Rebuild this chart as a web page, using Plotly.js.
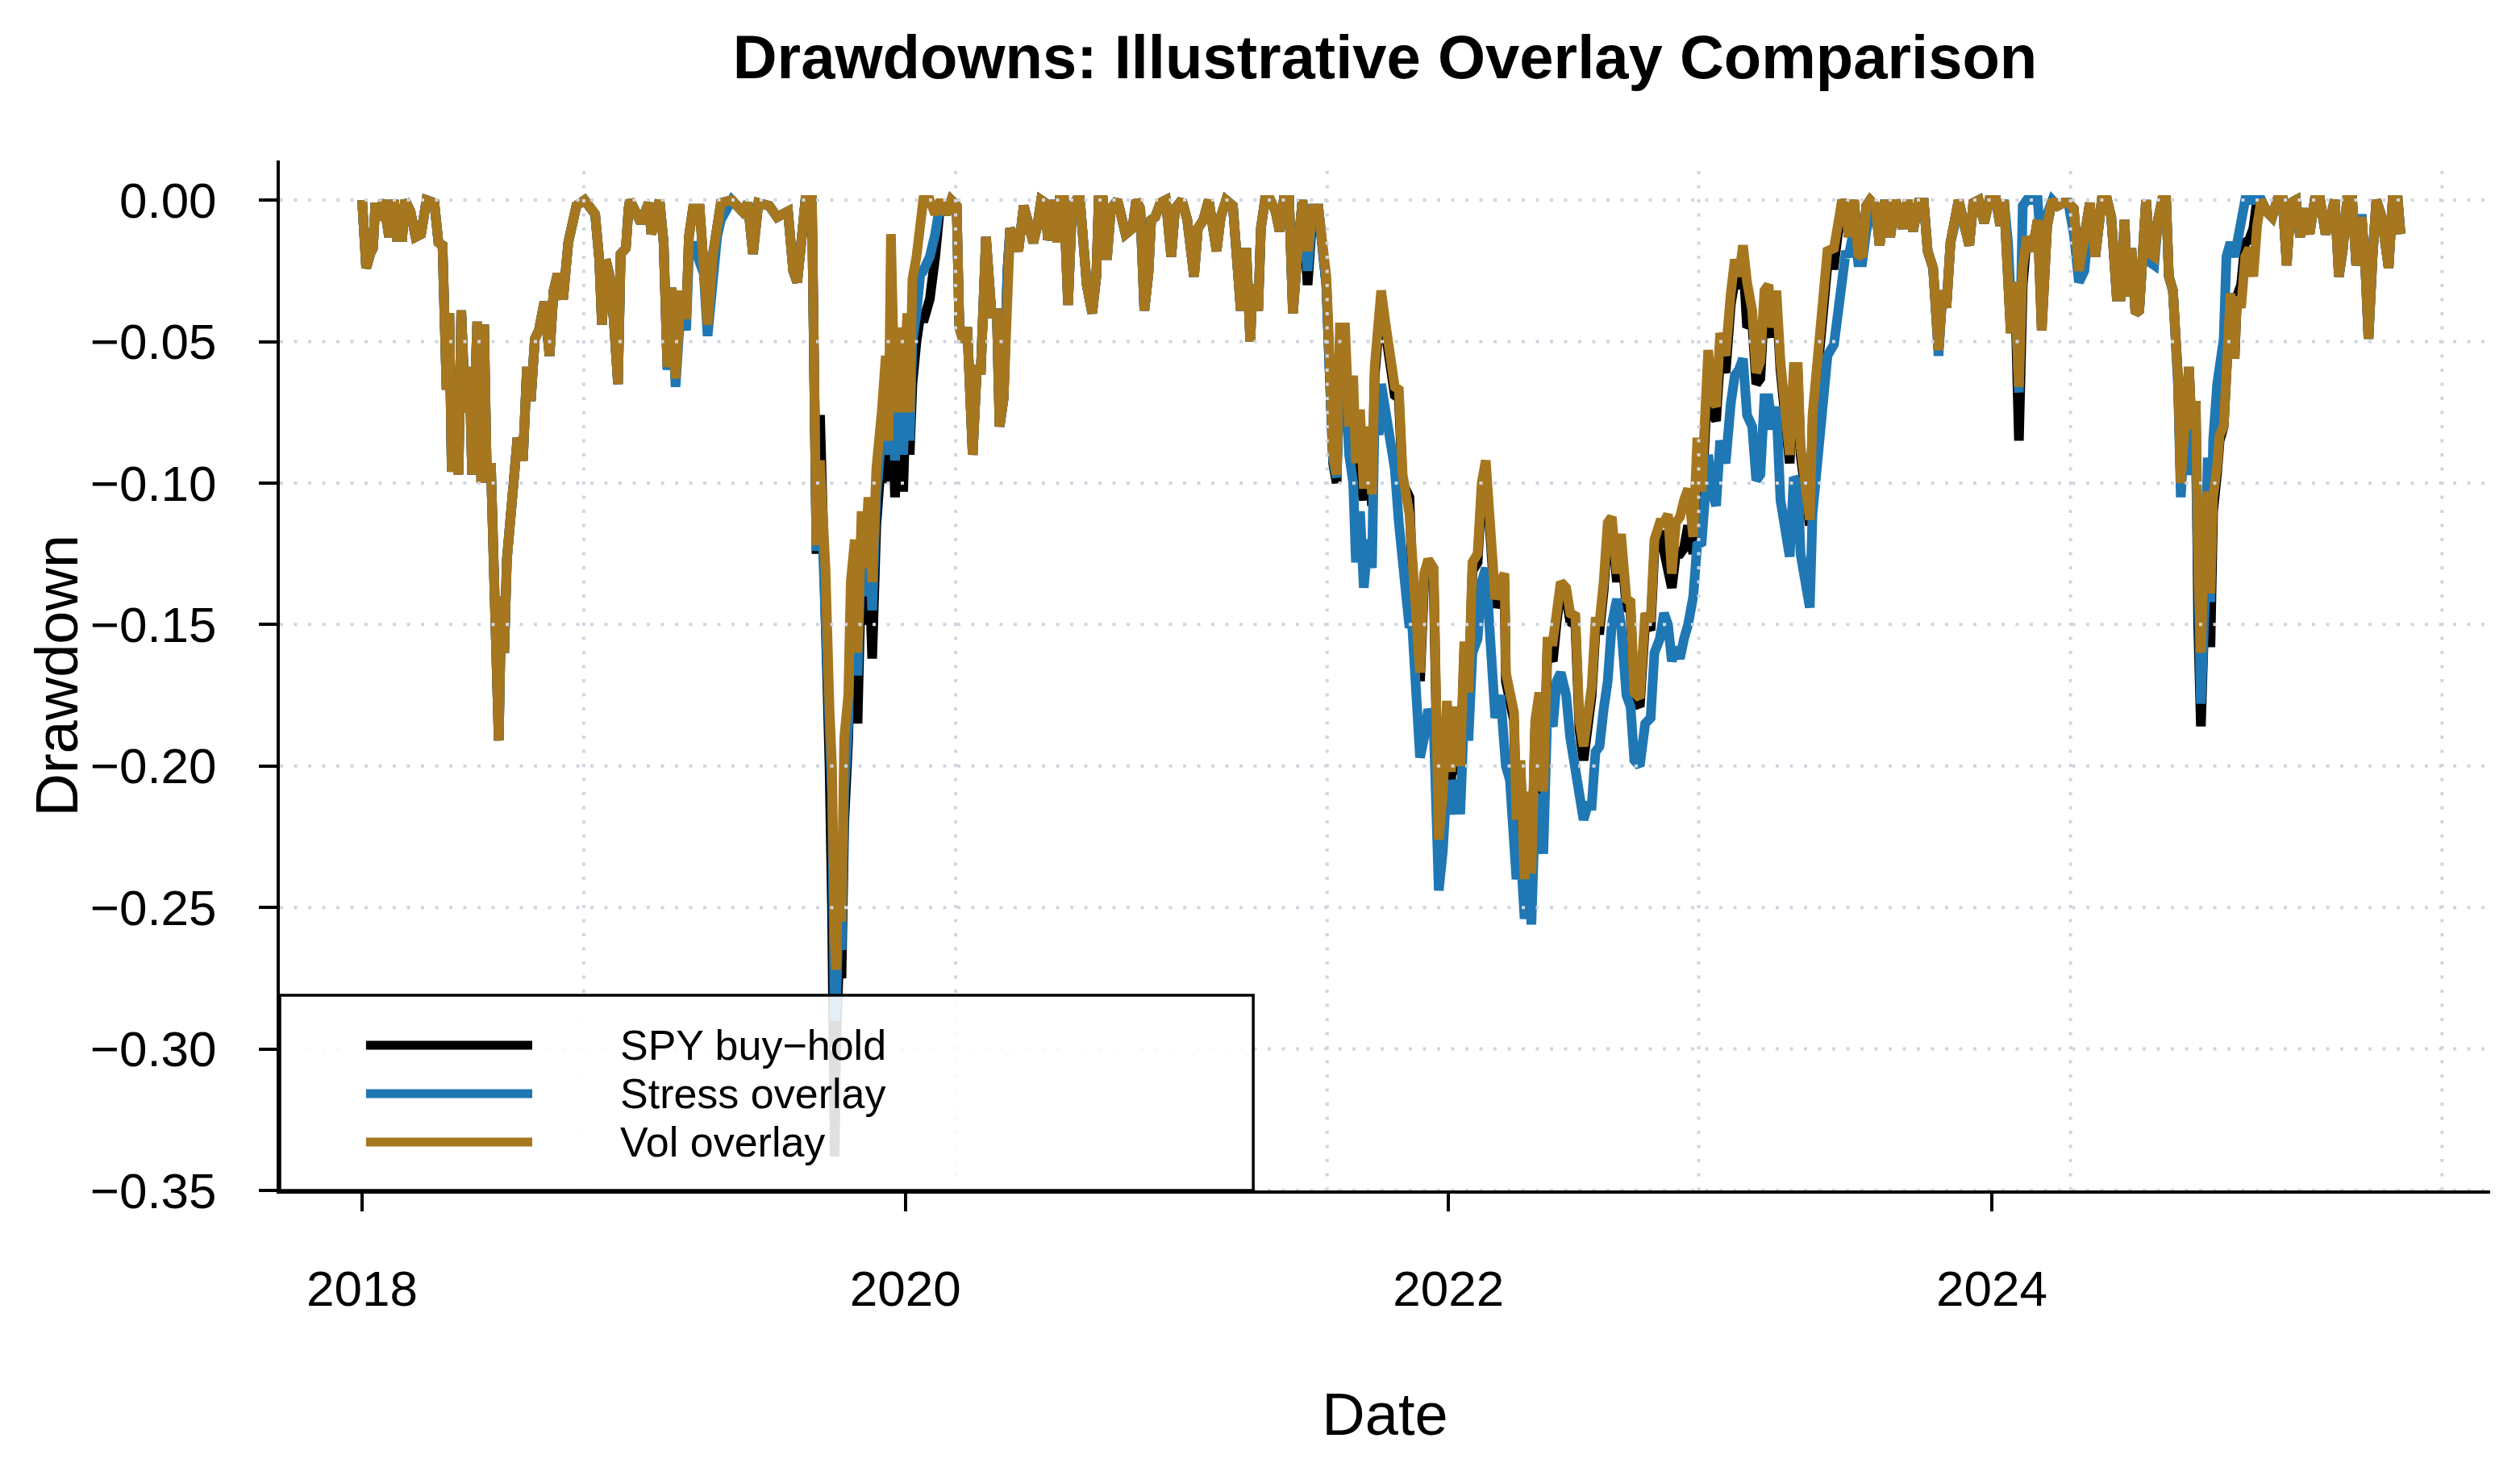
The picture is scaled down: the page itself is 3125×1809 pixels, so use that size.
<!DOCTYPE html>
<html>
<head>
<meta charset="utf-8">
<script src="https://cdn.plot.ly/plotly-3.0.1.min.js"></script>
<style>
  html, body { margin: 0; padding: 0; background: #fff; }
  #chart { width: 3125px; height: 1809px; }
</style>
</head>
<body>
<div id="chart"></div>
<script>
// time axis as plotted (decimal years)
var years = [
  // 2018 - mid 2019
  2018.000,2018.005,2018.015,2018.030,2018.040,2018.049,2018.059,2018.079,2018.099,2018.118,
  2018.128,2018.148,2018.158,2018.178,2018.197,2018.217,2018.237,2018.266,2018.281,2018.296,
  2018.301,2018.311,2018.321,2018.330,2018.345,2018.355,2018.365,2018.380,2018.395,2018.405,
  2018.424,2018.439,2018.449,2018.459,2018.474,2018.489,2018.503,2018.513,2018.523,2018.533,
  2018.548,2018.572,2018.592,2018.607,2018.621,2018.636,2018.651,2018.671,2018.690,2018.705,
  2018.720,2018.740,2018.759,2018.774,2018.789,2018.819,2018.848,2018.858,2018.873,2018.883,
  2018.897,2018.912,2018.927,2018.942,2018.952,2018.971,2018.981,2018.986,2019.026,2019.055,
  2019.065,2019.095,2019.110,2019.124,2019.139,2019.154,2019.174,2019.193,2019.203,2019.218,
  2019.243,2019.258,2019.272,2019.292,2019.307,2019.321,2019.361,2019.400,2019.420,2019.439,
  2019.459,
  // crash and rebound
  2019.499,2019.528,2019.568,2019.587,2019.602,2019.617,2019.632,2019.656,2019.666,2019.673,
  2019.686,2019.706,2019.721,2019.730,2019.740,2019.745,2019.755,2019.765,2019.775,2019.790,
  2019.799,2019.814,2019.824,2019.839,2019.849,2019.864,2019.878,2019.893,2019.913,2019.928,
  2019.938,2019.947,2019.962,2019.982,2019.992,2020.007,2020.016,2020.026,2020.041,2020.056,
  2020.066,2020.090,2020.110,2020.130,2020.150,2020.169,2020.189,2020.199,2020.214,2020.228,
  2020.248,2020.263,2020.278,2020.297,2020.317,2020.337,2020.347,2020.362,2020.376,2020.386,
  2020.406,2020.416,2020.436,
  // quiet stretch
  2020.471,2020.486,2020.500,2020.515,2020.525,2020.540,2020.550,2020.560,2020.569,2020.584,
  2020.599,2020.614,2020.629,2020.643,2020.653,2020.668,2020.688,2020.703,2020.712,2020.727,
  2020.742,2020.757,2020.781,2020.811,2020.836,2020.850,2020.865,2020.880,2020.895,2020.905,
  2020.920,2020.939,2020.959,2020.979,2020.993,2021.018,2021.038,2021.063,2021.077,2021.097,
  2021.117,2021.146,2021.161,2021.181,2021.206,2021.220,2021.235,2021.255,2021.270,2021.279,
  2021.299,2021.309,2021.324,2021.344,2021.363,2021.378,2021.393,2021.413,2021.427,2021.442,
  2021.462,
  // long drawdown
  2021.481,2021.501,2021.521,2021.535,2021.550,2021.560,2021.575,2021.588,2021.600,2021.619,
  2021.634,2021.649,2021.659,2021.674,2021.688,2021.703,2021.718,2021.728,2021.743,2021.752,
  2021.767,2021.787,2021.802,2021.817,2021.831,2021.856,2021.866,2021.881,2021.895,2021.910,
  2021.925,2021.945,2021.955,2021.964,2021.979,2021.994,2022.009,2022.029,2022.043,2022.058,
  2022.073,2022.088,2022.107,2022.122,2022.137,2022.152,2022.172,2022.191,2022.206,2022.211,
  2022.226,2022.241,2022.250,2022.265,2022.280,2022.295,2022.305,2022.319,2022.334,2022.349,
  2022.364,2022.384,2022.398,2022.413,2022.433,2022.448,2022.467,2022.482,2022.497,2022.512,
  2022.527,2022.541,2022.556,2022.571,2022.586,2022.601,2022.620,2022.635,2022.655,2022.670,
  2022.684,2022.704,2022.724,2022.744,2022.758,2022.778,2022.793,2022.808,2022.822,2022.837,
  2022.852,2022.867,2022.882,
  // recovery
  2022.901,2022.916,2022.931,2022.941,2022.956,2022.970,2022.985,2023.000,2023.020,2023.039,
  2023.054,2023.069,2023.084,2023.099,2023.118,2023.133,2023.148,2023.163,2023.178,2023.192,
  2023.207,2023.222,2023.237,2023.256,2023.271,2023.286,2023.296,2023.316,2023.330,2023.340,
  2023.355,2023.370,2023.380,2023.395,2023.419,2023.434,2023.449,2023.463,2023.473,2023.493,
  2023.508,2023.523,2023.538,2023.552,2023.572,2023.587,2023.607,2023.626,2023.646,2023.671,
  2023.690,2023.710,2023.730,2023.750,2023.764,2023.784,2023.804,2023.819,2023.833,2023.848,
  2023.863,2023.878,2023.897,2023.917,2023.932,2023.952,2023.972,2023.991,2024.016,2024.031,
  2024.045,2024.060,2024.070,2024.085,2024.100,2024.114,2024.129,2024.149,2024.169,2024.184,
  2024.204,2024.223,2024.243,2024.262,2024.282,2024.302,2024.321,2024.341,2024.361,
  // last dip and tail
  2024.381,2024.395,2024.405,2024.425,2024.440,2024.460,2024.474,2024.489,2024.499,2024.514,
  2024.529,2024.543,2024.553,2024.568,2024.583,2024.598,2024.612,2024.627,2024.642,2024.652,
  2024.667,2024.677,2024.686,2024.696,2024.711,2024.726,2024.736,2024.751,2024.760,2024.770,
  2024.785,2024.795,2024.805,2024.815,2024.830,2024.839,2024.854,2024.864,2024.879,2024.894,
  2024.903,2024.918,2024.933,2024.948,2024.963,2024.977,2024.992,2025.012,2025.032,2025.051,
  2025.071,2025.086,2025.101,2025.120,2025.135,2025.155,2025.170,2025.189,2025.209,2025.229,
  2025.249,2025.263,2025.278,2025.293,2025.308,2025.327,2025.342,2025.362,2025.377,2025.387,
  2025.402,2025.416,2025.436,2025.461,2025.476,2025.495,2025.505
];

var spy = [
  0,-0.008,-0.024,-0.019,-0.017,-0.001,-0.007,0,-0.013,0,
  -0.013,-0.013,0,-0.004,-0.013,-0.012,0,-0.001,-0.015,-0.016,
  -0.028,-0.067,-0.040,-0.096,-0.062,-0.097,-0.039,-0.075,-0.059,-0.097,
  -0.043,-0.100,-0.044,-0.097,-0.093,-0.150,-0.191,-0.140,-0.160,-0.127,
  -0.110,-0.084,-0.092,-0.059,-0.071,-0.049,-0.046,-0.036,-0.055,-0.032,
  -0.026,-0.035,-0.015,-0.008,-0.002,0,-0.003,-0.005,-0.021,-0.044,
  -0.021,-0.027,-0.043,-0.065,-0.019,-0.017,-0.003,0,-0.008,-0.001,
  -0.012,0,-0.015,-0.059,-0.031,-0.063,-0.032,-0.042,-0.013,-0.003,
  -0.003,-0.020,-0.044,-0.019,-0.008,-0.001,0,-0.004,-0.001,-0.019,
  -0.001,
  -0.002,-0.006,-0.004,-0.025,-0.029,-0.015,0,0,-0.061,-0.125,
  -0.076,-0.140,-0.200,-0.250,-0.338,-0.300,-0.270,-0.275,-0.220,-0.190,
  -0.150,-0.140,-0.185,-0.125,-0.150,-0.120,-0.162,-0.115,-0.090,-0.070,
  -0.100,-0.050,-0.105,-0.060,-0.103,-0.055,-0.090,-0.065,-0.050,-0.040,
  -0.043,-0.035,-0.020,0,-0.005,0,-0.002,-0.045,-0.050,-0.045,
  -0.090,-0.060,-0.060,-0.013,-0.040,-0.040,-0.080,-0.070,-0.025,-0.010,
  -0.015,-0.018,-0.002,
  -0.015,-0.009,0,-0.001,-0.014,-0.009,0,-0.015,0,0,
  -0.037,-0.002,0,0,-0.014,-0.030,-0.040,-0.027,0,0,
  -0.021,-0.003,0,-0.012,-0.010,0,-0.003,-0.039,-0.026,-0.007,
  -0.006,-0.001,0,-0.020,-0.003,0,-0.007,-0.027,-0.010,-0.007,
  0,-0.018,-0.006,0,-0.002,-0.017,-0.039,-0.017,-0.050,-0.030,
  -0.039,-0.010,0,0,-0.004,-0.011,0,0,-0.040,-0.021,
  0,
  -0.030,-0.003,-0.003,-0.018,-0.030,-0.055,-0.093,-0.100,-0.050,-0.050,
  -0.085,-0.070,-0.100,-0.100,-0.106,-0.085,-0.108,-0.062,-0.048,-0.035,
  -0.046,-0.058,-0.069,-0.070,-0.100,-0.105,-0.131,-0.144,-0.170,-0.135,
  -0.130,-0.133,-0.180,-0.230,-0.213,-0.180,-0.205,-0.182,-0.203,-0.159,
  -0.177,-0.131,-0.128,-0.103,-0.095,-0.117,-0.144,-0.138,-0.135,-0.170,
  -0.179,-0.184,-0.222,-0.201,-0.243,-0.212,-0.241,-0.187,-0.177,-0.212,
  -0.159,-0.163,-0.149,-0.138,-0.140,-0.149,-0.150,-0.187,-0.198,-0.185,
  -0.175,-0.152,-0.152,-0.138,-0.117,-0.115,-0.135,-0.121,-0.144,-0.145,
  -0.177,-0.179,-0.149,-0.152,-0.123,-0.117,-0.125,-0.130,-0.137,-0.125,
  -0.125,-0.123,-0.115,
  -0.125,-0.089,-0.108,-0.090,-0.060,-0.075,-0.078,-0.055,-0.061,-0.037,
  -0.028,-0.031,-0.020,-0.045,-0.043,-0.065,-0.063,-0.036,-0.046,-0.048,
  -0.035,-0.060,-0.078,-0.093,-0.062,-0.062,-0.090,-0.105,-0.115,-0.080,
  -0.062,-0.050,-0.037,-0.023,-0.023,-0.008,0,-0.003,-0.013,0,
  -0.019,-0.020,-0.002,0,-0.002,-0.016,0,-0.013,0,-0.010,
  0,-0.011,-0.001,-0.001,-0.018,-0.024,-0.053,-0.032,-0.038,-0.015,
  -0.009,0,-0.008,-0.016,-0.001,0,-0.008,0,0,-0.009,
  0,-0.024,-0.047,-0.029,-0.085,-0.030,-0.013,-0.018,-0.007,-0.046,
  -0.009,0,-0.002,-0.001,-0.001,-0.003,-0.025,-0.013,-0.001,
  -0.020,-0.006,0,0,-0.006,-0.034,-0.034,-0.007,-0.034,-0.017,
  -0.040,-0.039,-0.020,0,-0.019,-0.020,-0.007,0,0,-0.027,
  -0.032,-0.046,-0.063,-0.100,-0.074,-0.059,-0.081,-0.071,-0.150,-0.186,
  -0.140,-0.110,-0.158,-0.110,-0.096,-0.085,-0.080,-0.053,-0.033,-0.056,
  -0.034,-0.030,-0.015,-0.014,-0.010,0,0,-0.004,-0.006,0,
  0,-0.023,-0.001,0,-0.013,-0.003,-0.012,0,0,-0.012,
  -0.006,0,-0.027,-0.017,0,0,-0.023,-0.006,-0.027,-0.049,
  -0.020,0,-0.006,-0.024,0,0,-0.012
];

var stress = [
  0,-0.008,-0.024,-0.019,-0.017,-0.001,-0.007,0,-0.013,0,
  -0.013,-0.013,0,-0.004,-0.013,-0.012,0,-0.001,-0.015,-0.016,
  -0.028,-0.067,-0.040,-0.096,-0.062,-0.097,-0.039,-0.075,-0.059,-0.097,
  -0.043,-0.100,-0.044,-0.097,-0.093,-0.150,-0.191,-0.140,-0.160,-0.127,
  -0.110,-0.084,-0.092,-0.059,-0.071,-0.049,-0.046,-0.036,-0.055,-0.032,
  -0.026,-0.035,-0.015,-0.008,-0.002,0,-0.003,-0.005,-0.021,-0.044,
  -0.021,-0.027,-0.043,-0.065,-0.019,-0.017,-0.003,0,-0.008,-0.001,
  -0.012,0,-0.015,-0.060,-0.034,-0.066,-0.036,-0.046,-0.020,-0.015,
  -0.022,-0.026,-0.048,-0.022,-0.013,-0.007,0,-0.004,-0.001,-0.019,
  -0.001,
  -0.002,-0.006,-0.004,-0.025,-0.029,-0.015,0,0,-0.061,-0.124,
  -0.095,-0.140,-0.190,-0.210,-0.290,-0.285,-0.250,-0.265,-0.210,-0.185,
  -0.145,-0.130,-0.168,-0.115,-0.140,-0.110,-0.145,-0.105,-0.082,-0.065,
  -0.090,-0.040,-0.092,-0.055,-0.090,-0.050,-0.085,-0.050,-0.040,-0.025,
  -0.025,-0.020,-0.012,0,-0.005,0,-0.002,-0.045,-0.050,-0.045,
  -0.090,-0.060,-0.060,-0.013,-0.040,-0.040,-0.080,-0.070,-0.025,-0.010,
  -0.015,-0.018,-0.002,
  -0.015,-0.009,0,-0.001,-0.014,-0.009,0,-0.015,0,0,
  -0.037,-0.002,0,0,-0.014,-0.030,-0.040,-0.027,0,0,
  -0.021,-0.003,0,-0.012,-0.010,0,-0.003,-0.039,-0.026,-0.007,
  -0.006,-0.001,0,-0.020,-0.003,0,-0.007,-0.027,-0.010,-0.007,
  0,-0.018,-0.006,0,-0.002,-0.017,-0.039,-0.017,-0.050,-0.030,
  -0.039,-0.010,0,0,-0.004,-0.011,0,0,-0.040,-0.021,
  0,
  -0.025,-0.003,-0.003,-0.018,-0.030,-0.055,-0.092,-0.098,-0.060,-0.065,
  -0.090,-0.100,-0.128,-0.110,-0.137,-0.120,-0.130,-0.075,-0.083,-0.065,
  -0.075,-0.090,-0.095,-0.114,-0.125,-0.151,-0.150,-0.175,-0.197,-0.190,
  -0.180,-0.185,-0.210,-0.244,-0.230,-0.205,-0.217,-0.205,-0.217,-0.180,
  -0.191,-0.160,-0.155,-0.135,-0.130,-0.150,-0.183,-0.175,-0.191,-0.200,
  -0.205,-0.228,-0.240,-0.230,-0.254,-0.240,-0.256,-0.215,-0.210,-0.231,
  -0.180,-0.186,-0.170,-0.167,-0.175,-0.190,-0.200,-0.212,-0.219,-0.214,
  -0.214,-0.195,-0.193,-0.180,-0.170,-0.150,-0.141,-0.150,-0.175,-0.179,
  -0.198,-0.200,-0.185,-0.183,-0.160,-0.155,-0.146,-0.150,-0.163,-0.158,
  -0.162,-0.155,-0.150,
  -0.140,-0.121,-0.122,-0.110,-0.090,-0.103,-0.108,-0.085,-0.093,-0.072,
  -0.062,-0.060,-0.056,-0.076,-0.080,-0.099,-0.097,-0.070,-0.070,-0.081,
  -0.073,-0.106,-0.116,-0.126,-0.098,-0.100,-0.125,-0.138,-0.144,-0.111,
  -0.096,-0.080,-0.064,-0.055,-0.051,-0.041,-0.032,-0.018,-0.020,-0.010,
  -0.022,-0.022,-0.011,-0.005,-0.002,-0.016,0,-0.013,0,-0.010,
  0,-0.011,-0.001,-0.001,-0.018,-0.024,-0.055,-0.032,-0.038,-0.015,
  -0.009,0,-0.008,-0.016,-0.001,0,-0.008,0,0,-0.009,
  0,-0.015,-0.035,-0.030,-0.068,-0.002,0,0,0,-0.020,
  -0.005,0,-0.002,-0.001,-0.001,-0.012,-0.029,-0.025,-0.005,
  -0.020,-0.006,0,0,-0.006,-0.034,-0.034,-0.007,-0.034,-0.017,
  -0.040,-0.039,-0.020,0,-0.022,-0.023,-0.007,0,0,-0.027,
  -0.032,-0.046,-0.066,-0.105,-0.080,-0.085,-0.097,-0.090,-0.150,-0.178,
  -0.142,-0.091,-0.142,-0.085,-0.065,-0.057,-0.049,-0.020,-0.015,-0.020,
  -0.015,-0.008,0,0,0,0,0,-0.004,-0.006,0,
  0,-0.023,-0.001,0,-0.013,-0.003,-0.012,0,0,-0.012,
  -0.006,0,-0.027,-0.017,0,0,-0.023,-0.005,-0.027,-0.049,
  -0.020,0,-0.006,-0.024,0,0,-0.012
];

var vol = [
  0,-0.008,-0.024,-0.019,-0.017,-0.001,-0.007,0,-0.013,0,
  -0.013,-0.013,0,-0.004,-0.013,-0.012,0,-0.001,-0.015,-0.016,
  -0.028,-0.067,-0.040,-0.096,-0.062,-0.097,-0.039,-0.075,-0.059,-0.097,
  -0.043,-0.100,-0.044,-0.097,-0.093,-0.150,-0.191,-0.140,-0.160,-0.127,
  -0.110,-0.084,-0.092,-0.059,-0.071,-0.049,-0.046,-0.036,-0.055,-0.032,
  -0.026,-0.035,-0.015,-0.008,-0.002,0,-0.003,-0.005,-0.021,-0.044,
  -0.021,-0.027,-0.043,-0.065,-0.019,-0.017,-0.003,0,-0.008,-0.001,
  -0.012,0,-0.015,-0.059,-0.031,-0.063,-0.032,-0.042,-0.013,-0.003,
  -0.003,-0.020,-0.044,-0.019,-0.008,-0.001,0,-0.004,-0.001,-0.019,
  -0.001,
  -0.002,-0.006,-0.004,-0.025,-0.029,-0.015,0,0,-0.061,-0.122,
  -0.092,-0.130,-0.180,-0.200,-0.260,-0.272,-0.230,-0.255,-0.190,-0.175,
  -0.135,-0.120,-0.160,-0.110,-0.130,-0.105,-0.135,-0.095,-0.075,-0.055,
  -0.085,-0.012,-0.075,-0.045,-0.075,-0.040,-0.075,-0.028,-0.020,-0.005,
  0,0,-0.005,0,-0.005,0,-0.002,-0.045,-0.050,-0.045,
  -0.090,-0.060,-0.060,-0.013,-0.040,-0.040,-0.080,-0.070,-0.025,-0.010,
  -0.015,-0.018,-0.002,
  -0.015,-0.009,0,-0.001,-0.014,-0.009,0,-0.015,0,0,
  -0.037,-0.002,0,0,-0.014,-0.030,-0.040,-0.027,0,0,
  -0.021,-0.003,0,-0.012,-0.010,0,-0.003,-0.039,-0.026,-0.007,
  -0.006,-0.001,0,-0.020,-0.003,0,-0.007,-0.027,-0.010,-0.007,
  0,-0.018,-0.006,0,-0.002,-0.017,-0.039,-0.017,-0.050,-0.030,
  -0.039,-0.010,0,0,-0.004,-0.011,0,0,-0.040,-0.021,
  0,
  -0.018,-0.003,-0.003,-0.018,-0.027,-0.050,-0.090,-0.097,-0.045,-0.045,
  -0.080,-0.062,-0.093,-0.074,-0.102,-0.080,-0.104,-0.059,-0.045,-0.032,
  -0.043,-0.055,-0.066,-0.067,-0.097,-0.111,-0.128,-0.141,-0.167,-0.132,
  -0.127,-0.130,-0.176,-0.226,-0.210,-0.177,-0.202,-0.179,-0.200,-0.156,
  -0.174,-0.128,-0.125,-0.100,-0.092,-0.114,-0.141,-0.135,-0.132,-0.167,
  -0.176,-0.181,-0.219,-0.198,-0.240,-0.209,-0.238,-0.184,-0.174,-0.209,
  -0.156,-0.156,-0.146,-0.135,-0.137,-0.146,-0.147,-0.184,-0.193,-0.182,
  -0.172,-0.149,-0.149,-0.135,-0.114,-0.112,-0.132,-0.118,-0.141,-0.142,
  -0.174,-0.176,-0.146,-0.149,-0.120,-0.114,-0.114,-0.111,-0.132,-0.114,
  -0.112,-0.106,-0.102,
  -0.119,-0.084,-0.103,-0.087,-0.053,-0.070,-0.073,-0.047,-0.055,-0.033,
  -0.021,-0.027,-0.016,-0.029,-0.039,-0.061,-0.057,-0.032,-0.030,-0.045,
  -0.032,-0.057,-0.076,-0.090,-0.059,-0.059,-0.087,-0.103,-0.113,-0.076,
  -0.058,-0.045,-0.032,-0.018,-0.017,-0.005,0,-0.003,-0.013,0,
  -0.019,-0.020,-0.002,0,-0.002,-0.016,0,-0.013,0,-0.010,
  0,-0.011,-0.001,-0.001,-0.018,-0.024,-0.053,-0.032,-0.038,-0.015,
  -0.009,0,-0.008,-0.016,-0.001,0,-0.008,0,0,-0.009,
  0,-0.024,-0.047,-0.029,-0.066,-0.024,-0.013,-0.018,-0.007,-0.046,
  -0.009,0,-0.002,-0.001,-0.001,-0.003,-0.025,-0.013,-0.001,
  -0.020,-0.006,0,0,-0.006,-0.034,-0.034,-0.007,-0.034,-0.017,
  -0.040,-0.039,-0.020,0,-0.019,-0.020,-0.007,0,0,-0.027,
  -0.032,-0.046,-0.063,-0.100,-0.074,-0.059,-0.081,-0.071,-0.127,-0.160,
  -0.113,-0.103,-0.139,-0.105,-0.094,-0.083,-0.080,-0.053,-0.033,-0.056,
  -0.034,-0.038,-0.020,-0.017,-0.027,-0.009,0,-0.004,-0.006,0,
  0,-0.023,-0.001,0,-0.013,-0.003,-0.012,0,0,-0.012,
  -0.006,0,-0.027,-0.017,0,0,-0.023,-0.006,-0.027,-0.049,
  -0.020,0,-0.006,-0.024,0,0,-0.012
];

var names = ["SPY buy\u2212hold", "Stress overlay", "Vol overlay"];
var colors = ["#000000", "#1f77b4", "#a6771f"];

var xTicks = [2018, 2020, 2022, 2024];
var xTickText = ["2018", "2020", "2022", "2024"];
var yTicks = [0, -0.05, -0.10, -0.15, -0.20, -0.25, -0.30, -0.35];
var gridYears = [2018.816, 2020.185, 2021.553, 2022.921, 2024.290, 2025.658];

var gridColor = "#d0d5e1";
var gridDash = "4px,13.5px";
var font = "Liberation Sans, Arial, Helvetica, sans-serif";

var values = [spy, stress, vol];
var data = values.map(function (ys, i) {
  return {
    x: years,
    y: ys,
    name: names[i],
    type: "scatter",
    mode: "lines",
    line: { color: colors[i], width: 12 },
    hoverinfo: "skip"
  };
});

// grid drawn on top of the lines, like the original
var shapes = [];
gridYears.forEach(function (g) {
  shapes.push({ type: "line", xref: "x", yref: "paper", x0: g, x1: g, y0: 0, y1: 1,
    layer: "above", line: { color: gridColor, width: 4, dash: gridDash } });
});
yTicks.forEach(function (v) {
  shapes.push({ type: "line", xref: "paper", yref: "y", x0: 0, x1: 1, y0: v, y1: v,
    layer: "above", line: { color: gridColor, width: 4, dash: gridDash } });
});

// legend box, bottom-left of the plot
shapes.push({ type: "rect", xref: "paper", yref: "paper", x0: 0, x1: 0.4404, y0: 0, y1: 0.1895,
  layer: "above", fillcolor: "rgba(255,255,255,0.88)", line: { color: "#000", width: 3.5 } });

var rowY = [0.141, 0.094, 0.047];
var annotations = [];
names.forEach(function (n, i) {
  shapes.push({ type: "line", xref: "paper", yref: "paper", x0: 0.039, x1: 0.1142,
    y0: rowY[i], y1: rowY[i], layer: "above", line: { color: colors[i], width: 11 } });
  annotations.push({ xref: "paper", yref: "paper", x: 0.1532, y: rowY[i], text: n,
    showarrow: false, xanchor: "left", yanchor: "middle", font: { size: 52, color: "#000" } });
});

// y axis title, placed where the original has it
annotations.push({ xref: "paper", yref: "paper", x: (70 - 347) / 2741, y: 0.5, text: "Drawdown",
  textangle: -90, showarrow: false, xanchor: "center", yanchor: "middle",
  font: { size: 74, color: "#000" } });

var layout = {
  width: 3125,
  height: 1809,
  margin: { l: 347, r: 37, t: 199, b: 333 },
  paper_bgcolor: "#ffffff",
  plot_bgcolor: "#ffffff",
  font: { family: font, color: "#000" },
  showlegend: false,
  title: {
    text: "Drawdowns: Illustrative Overlay Comparison",
    font: { size: 76, weight: 700 },
    x: 0.5, xref: "paper",
    y: 1 - 70 / 1809, yref: "container", yanchor: "middle"
  },
  xaxis: {
    range: [2017.697, 2025.835],
    tickmode: "array", tickvals: xTicks, ticktext: xTickText,
    ticks: "outside", ticklen: 22, tickwidth: 4, tickcolor: "#000",
    showline: true, linecolor: "#000", linewidth: 4,
    showgrid: false, zeroline: false,
    tickfont: { size: 62 }, ticklabelstandoff: 43,
    automargin: false,
    title: { text: "Date", font: { size: 74 }, standoff: 97 }
  },
  yaxis: {
    range: [-0.35, 0.014],
    tickmode: "array", tickvals: yTicks, tickformat: ".2f",
    ticks: "outside", ticklen: 22, tickwidth: 4, tickcolor: "#000",
    showline: true, linecolor: "#000", linewidth: 4,
    showgrid: false, zeroline: false,
    tickfont: { size: 62 }, ticklabelstandoff: 40,
    automargin: false
  },
  shapes: shapes,
  annotations: annotations
};

Plotly.newPlot("chart", data, layout, { displayModeBar: false, staticPlot: true });
</script>
</body>
</html>
